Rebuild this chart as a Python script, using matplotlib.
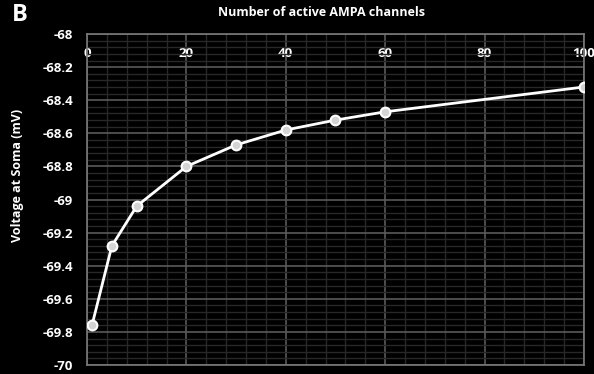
import numpy as np
import matplotlib.pyplot as plt
from matplotlib.ticker import MultipleLocator

# active AMPA channels vs somatic voltage
channels = [1, 5, 10, 20, 30, 40, 50, 60, 100]
voltage = [-69.76, -69.28, -69.04, -68.80, -68.67, -68.58, -68.52, -68.47, -68.32]

plt.rcParams['font.family'] = ['Open Sans', 'DejaVu Sans']

fig = plt.figure(figsize=(5.94, 3.74), dpi=100, facecolor='black')
ax = fig.add_axes([0.1465, 0.024, 0.8365, 0.885], facecolor='black')

ax.plot(channels, voltage, color='white', lw=2, marker='o', ms=7,
        mfc='#d4d4d4', mec='white', mew=1.5, zorder=3)

ax.set_xlim(0, 100)
ax.set_ylim(-70, -68)
ax.xaxis.set_major_locator(MultipleLocator(20))
ax.xaxis.set_minor_locator(MultipleLocator(4))
ax.yaxis.set_major_locator(MultipleLocator(0.2))
ax.yaxis.set_minor_locator(MultipleLocator(0.04))
ax.yaxis.set_major_formatter(lambda v, p: f'{v:g}')

ax.grid(which='major', color='#5a5a5a', lw=1.2)
ax.grid(which='minor', color='#282828', lw=1.0)
ax.set_axisbelow(True)
for s in ax.spines.values():
    s.set_color('#7a7a7a')
    s.set_linewidth(1.2)

ax.tick_params(axis='x', which='both', bottom=False, labelbottom=False,
               top=False, labeltop=True, length=0, pad=-19,
               labelcolor='white', labelsize=9.5)
ax.tick_params(axis='y', which='both', length=0, pad=10,
               labelcolor='white', labelsize=9.5)
for lab in ax.get_xticklabels() + ax.get_yticklabels():
    lab.set_fontweight('bold')

ax.set_ylabel('Voltage at Soma (mV)', color='white', fontsize=9,
              fontweight='bold')
ax.yaxis.set_label_coords(-0.127, 0.574)
fig.text(0.542, 0.966, 'Number of active AMPA channels', color='white',
         fontsize=9, fontweight='bold', ha='center', va='center')
fig.text(0.02, 0.96, 'B', color='white', fontsize=17, fontweight='bold',
         ha='left', va='center')

fig.savefig('out.png', dpi=100, facecolor='black')
